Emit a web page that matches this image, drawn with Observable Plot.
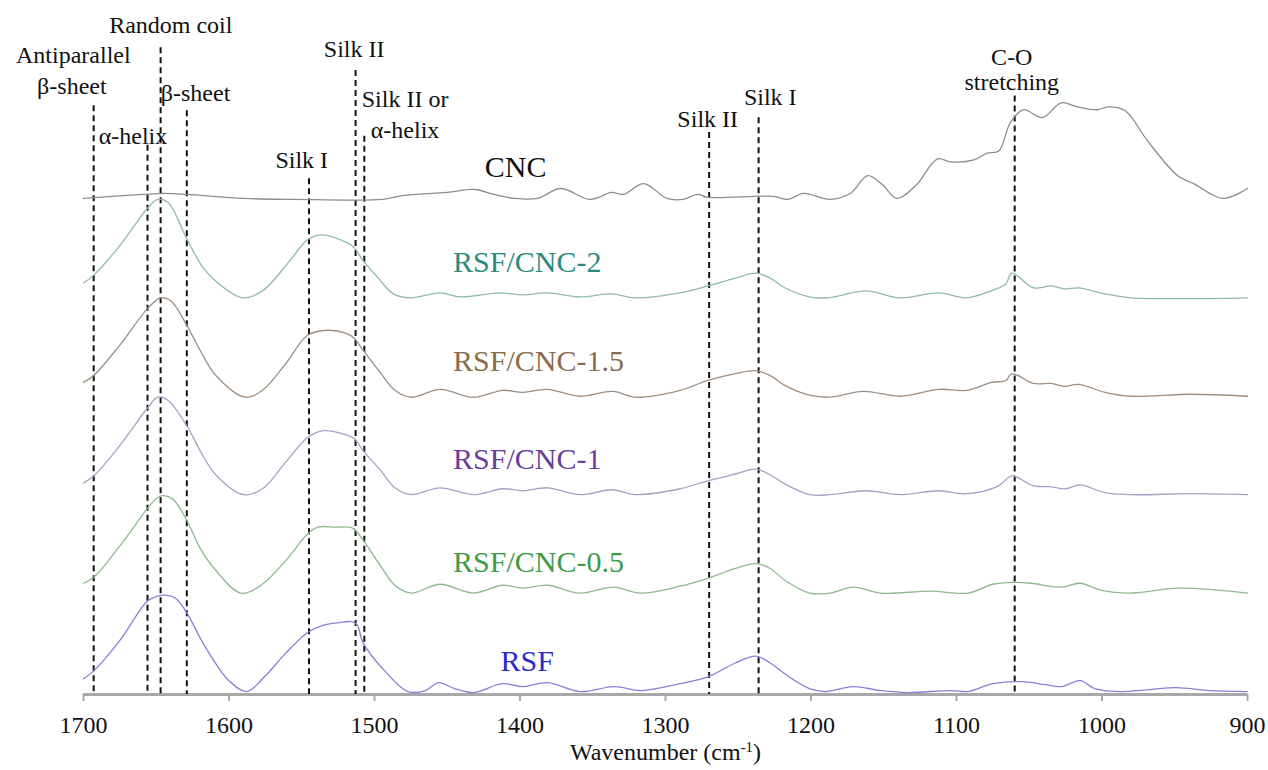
<!DOCTYPE html>
<html><head><meta charset="utf-8">
<script src="https://cdn.jsdelivr.net/npm/d3@7"></script>
<script src="https://cdn.jsdelivr.net/npm/@observablehq/plot@0.6"></script>
<style>
html,body{margin:0;padding:0;background:#fff;}
#chart svg, #chart svg text, #chart svg tspan { font-family: "Liberation Serif", "Times New Roman", serif !important; }
</style>
</head><body><div id="chart"></div>
<script>
// Spectra: [wavenumber (cm-1), relative absorbance]
const rsf = [[1700,0.13],[1693,0.21],[1675,0.52],[1656,0.92],[1649,0.97],[1644,0.98],[1637,0.95],[1629,0.80],[1620,0.55],[1612,0.35],[1600,0.11],[1588,0.00],[1575,0.16],[1561,0.39],[1546,0.60],[1536,0.67],[1524,0.70],[1516,0.71],[1512,0.68],[1508,0.50],[1493,0.21],[1477,0.00],[1465,0.01],[1456,0.09],[1445,0.03],[1432,-0.01],[1412,0.08],[1398,0.05],[1381,0.09],[1359,0.00],[1335,0.05],[1317,0.01],[1290,0.08],[1271,0.15],[1252,0.29],[1238,0.36],[1228,0.29],[1218,0.18],[1201,0.03],[1190,0.00],[1171,0.05],[1152,0.01],[1134,-0.01],[1104,0.01],[1092,0.00],[1075,0.08],[1055,0.10],[1039,0.07],[1028,0.05],[1015,0.11],[1005,0.03],[989,0.00],[967,0.02],[949,0.04],[926,0.01],[900,0.00]];
const rsfCnc05 = [[1700,0.10],[1693,0.16],[1675,0.48],[1656,0.86],[1650,0.96],[1646,0.99],[1639,0.96],[1629,0.74],[1620,0.46],[1609,0.23],[1592,0.00],[1578,0.08],[1561,0.33],[1546,0.60],[1539,0.67],[1527,0.67],[1515,0.66],[1508,0.54],[1496,0.28],[1486,0.08],[1475,0.00],[1455,0.09],[1432,0.00],[1412,0.08],[1398,0.05],[1381,0.08],[1359,0.00],[1336,0.06],[1317,0.00],[1290,0.07],[1271,0.15],[1252,0.25],[1238,0.30],[1228,0.25],[1218,0.13],[1201,0.00],[1187,0.00],[1171,0.06],[1152,0.00],[1118,0.02],[1092,0.00],[1075,0.09],[1062,0.11],[1049,0.10],[1028,0.06],[1015,0.10],[1001,0.03],[981,0.00],[947,0.05],[900,0.00]];
const rsfCnc1 = [[1700,0.12],[1693,0.19],[1675,0.50],[1656,0.88],[1649,0.99],[1642,0.96],[1629,0.70],[1620,0.45],[1609,0.20],[1590,0.00],[1577,0.06],[1561,0.33],[1546,0.58],[1535,0.65],[1520,0.61],[1514,0.57],[1508,0.45],[1496,0.25],[1486,0.07],[1475,0.00],[1455,0.07],[1432,0.00],[1412,0.06],[1398,0.04],[1381,0.07],[1359,0.00],[1336,0.05],[1321,0.00],[1290,0.06],[1271,0.14],[1252,0.21],[1238,0.26],[1228,0.20],[1218,0.11],[1201,0.00],[1187,0.00],[1162,0.04],[1139,0.00],[1112,0.04],[1093,0.01],[1071,0.09],[1062,0.19],[1047,0.09],[1035,0.08],[1025,0.06],[1015,0.10],[998,0.02],[980,0.00],[939,0.01],[900,0.00]];
const rsfCnc15 = [[1700,0.14],[1693,0.21],[1675,0.52],[1656,0.89],[1647,1.00],[1640,0.97],[1629,0.72],[1620,0.47],[1609,0.21],[1589,-0.01],[1577,0.06],[1561,0.33],[1546,0.62],[1532,0.67],[1520,0.64],[1514,0.59],[1508,0.47],[1496,0.24],[1486,0.06],[1475,-0.01],[1455,0.07],[1432,-0.01],[1412,0.06],[1398,0.04],[1381,0.07],[1359,0.00],[1336,0.05],[1321,-0.01],[1290,0.06],[1271,0.16],[1252,0.23],[1238,0.26],[1228,0.21],[1218,0.11],[1201,0.01],[1187,-0.01],[1164,0.05],[1139,0.00],[1112,0.07],[1093,0.06],[1076,0.14],[1066,0.16],[1062,0.23],[1047,0.13],[1035,0.13],[1026,0.10],[1016,0.12],[998,0.04],[980,0.00],[939,0.02],[900,0.00]];
const rsfCnc2 = [[1700,0.15],[1693,0.23],[1675,0.53],[1656,0.91],[1649,1.00],[1642,0.97],[1629,0.60],[1618,0.31],[1606,0.13],[1591,0.00],[1577,0.07],[1558,0.38],[1546,0.59],[1536,0.64],[1519,0.56],[1514,0.51],[1508,0.38],[1498,0.21],[1487,0.04],[1475,0.00],[1455,0.05],[1441,0.01],[1414,0.05],[1398,0.03],[1381,0.05],[1359,0.01],[1337,0.04],[1321,0.00],[1290,0.05],[1271,0.12],[1252,0.20],[1238,0.25],[1228,0.20],[1219,0.11],[1201,0.01],[1188,0.00],[1162,0.07],[1139,0.00],[1112,0.05],[1093,0.00],[1071,0.10],[1066,0.14],[1062,0.25],[1047,0.10],[1035,0.12],[1026,0.09],[1016,0.10],[998,0.04],[980,0.00],[900,0.00]];
const cnc = [[1700,0.01],[1659,0.05],[1645,0.06],[1629,0.05],[1590,0.01],[1556,0.00],[1494,0.00],[1480,0.04],[1450,0.07],[1431,0.10],[1418,0.05],[1404,0.01],[1388,0.01],[1372,0.11],[1352,0.00],[1337,0.07],[1329,0.05],[1315,0.16],[1299,0.01],[1288,0.00],[1278,0.05],[1271,0.02],[1226,0.03],[1216,0.00],[1205,0.06],[1187,0.00],[1173,0.06],[1161,0.24],[1151,0.15],[1141,0.01],[1128,0.14],[1113,0.41],[1104,0.38],[1088,0.40],[1079,0.47],[1071,0.49],[1063,0.78],[1054,0.91],[1041,0.83],[1028,0.98],[1017,0.94],[1003,0.91],[996,0.94],[984,0.90],[969,0.60],[948,0.24],[937,0.16],[917,0.01],[900,0.11]];

const seriesNames = ["RSF", "RSF/CNC-0.5", "RSF/CNC-1", "RSF/CNC-1.5", "RSF/CNC-2", "CNC"];
const seriesValues = [rsf, rsfCnc05, rsfCnc1, rsfCnc15, rsfCnc2, cnc];
const seriesOffsets = [0, 1, 2, 3, 4, 5];
const lineColors = ["#8482d6", "#8fb88f", "#aa9fc4", "#a08f80", "#8fb8b0", "#8c8c8c"];
const labelColors = ["#2b2bc8", "#3d9b48", "#6a3d9a", "#8b6b4a", "#2a8a7e", "#111111"];
const labelX = [1395, 1446, 1446, 1446, 1446, 1403];
const labelY = [0.31, 1.31, 2.36, 3.35, 4.36, 5.32];
const labelAnchor = ["middle", "start", "start", "start", "start", "middle"];

// Band assignments (dashed lines)
const bandWavenumbers = [1693, 1656, 1647, 1629, 1545, 1513, 1507, 1270, 1236, 1060];
const bandTops = [5.95, 5.55, 6.54, 5.90, 5.21, 6.31, 5.64, 5.68, 5.83, 6.05];

const annText = ["Random coil", "Antiparallel", "β-sheet", "α-helix", "β-sheet", "Silk II", "Silk I", "Silk II or", "α-helix", "Silk II", "Silk I", "C-O", "stretching"];
const annX = [1640, 1707, 1708, 1666, 1623, 1514, 1550, 1479, 1479, 1271, 1228, 1062, 1062];
const annY = [6.77, 6.46, 6.15, 5.64, 6.08, 6.52, 5.40, 6.02, 5.70, 5.81, 6.04, 6.44, 6.19];

const xTicks = [1700, 1600, 1500, 1400, 1300, 1200, 1100, 1000, 900];
const yMin = -0.03, yMax = 7.02;

const font = "Liberation Serif, Times New Roman, serif";

const marks = [];
marks.push(Plot.ruleY([yMin], {stroke: "#a8a8a8", strokeWidth: 3}));
marks.push(Plot.axisX({ticks: xTicks, tickSize: 7, tickPadding: 14, stroke: "#a8a8a8", strokeWidth: 2, fill: "#111", fontSize: 24, fontFamily: font, tickFormat: d => String(d), label: null}));
marks.push(Plot.ruleX(bandWavenumbers, {x: d => d, y1: (d, i) => bandTops[i], y2: yMin, stroke: "#111", strokeWidth: 2, strokeDasharray: "6,4"}));
seriesValues.forEach((s, i) => {
  const rows = s.map(([w, v]) => ({w, a: v + seriesOffsets[i]}));
  marks.push(Plot.line(rows, {x: "w", y: "a", stroke: lineColors[i], strokeWidth: 1.3, curve: "catmull-rom"}));
});
seriesNames.forEach((n, i) => {
  marks.push(Plot.text([n], {x: labelX[i], y: labelY[i], text: d => d, fill: labelColors[i], fontSize: 30, fontFamily: font, textAnchor: labelAnchor[i], lineAnchor: "middle"}));
});
marks.push(Plot.text(annText, {x: (d, i) => annX[i], y: (d, i) => annY[i], text: d => d, fill: "#111", fontSize: 24, fontFamily: font, lineAnchor: "middle"}));
marks.push(Plot.text(["Wavenumber (cm-1)"], {x: 1300, frameAnchor: "bottom", dy: 58, text: d => d, fill: "#111", fontSize: 24, fontFamily: font, lineAnchor: "middle"}));

const chart = Plot.plot({
  width: 1268,
  height: 770,
  marginLeft: 83,
  marginRight: 21,
  marginTop: 0,
  marginBottom: 76,
  style: {fontFamily: font, background: "#fff", overflow: "visible"},
  x: {domain: [1700, 900], axis: null},
  y: {domain: [yMin, yMax], axis: null},
  marks
});
chart.setAttribute("font-family", font);
document.getElementById("chart").appendChild(chart);

d3.select(chart).selectAll("text").each(function() {
  if (this.textContent === "Wavenumber (cm-1)") {
    const t = d3.select(this);
    t.text("Wavenumber (cm");
    t.append("tspan").attr("baseline-shift", "super").attr("font-size", "0.62em").text("-1");
    t.append("tspan").text(")");
  }
});
</script>
</body></html>
